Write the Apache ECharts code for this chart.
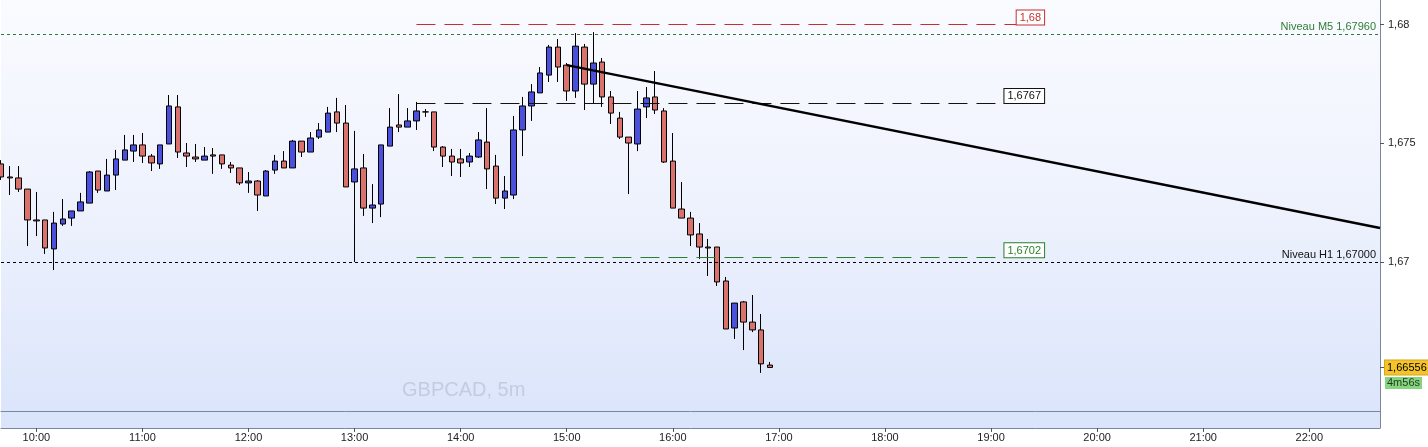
<!DOCTYPE html>
<html><head><meta charset="utf-8">
<script src="https://cdn.jsdelivr.net/npm/echarts@6/dist/echarts.min.js"></script>
<style>html,body{margin:0;padding:0;background:#fff}#c{width:1428px;height:447px}</style>
</head><body><div id="c"></div>
<script>
// 5-minute categories 09:40 .. 22:40
const times = [];
for (let m = 9 * 60 + 40; m <= 22 * 60 + 40; m += 5) {
  times.push(String(Math.floor(m / 60)).padStart(2, '0') + ':' + String(m % 60).padStart(2, '0'));
}
const opens = [1.67413,1.67358,1.67354,1.67307,1.67177,1.67177,1.67055,1.67160,1.67185,1.67215,
1.67248,1.67383,1.67299,1.67366,1.67429,1.67467,1.67493,1.67446,1.67413,1.67497,
1.67653,1.67459,1.67442,1.67429,1.67451,1.67451,1.67408,1.67396,1.67333,1.67341,
1.67278,1.67387,1.67425,1.67396,1.67509,1.67463,1.67526,1.67547,1.67632,1.67585,
1.67337,1.67396,1.67227,1.67244,1.67488,1.67577,1.67568,1.67594,1.67632,1.67632,
1.67484,1.67446,1.67434,1.67421,1.67442,1.67505,1.67404,1.67269,1.67282,1.67556,
1.67657,1.67712,1.67787,1.67905,1.67829,1.67720,1.67905,1.67749,1.67842,1.67695,
1.67606,1.67526,1.67497,1.67653,1.67695,1.67636,1.67425,1.67223,1.67185,1.67118,
1.67063,1.67063,1.66920,1.66722,1.66832,1.66747,1.66714,1.66566];
const closes = [1.67358,1.67354,1.67307,1.67177,1.67173,1.67059,1.67164,1.67181,1.67215,1.67253,
1.67379,1.67303,1.67366,1.67434,1.67472,1.67493,1.67446,1.67417,1.67493,1.67657,
1.67463,1.67446,1.67434,1.67446,1.67446,1.67413,1.67396,1.67333,1.67341,1.67282,
1.67383,1.67425,1.67396,1.67509,1.67463,1.67522,1.67556,1.67627,1.67585,1.67316,
1.67392,1.67227,1.67240,1.67493,1.67568,1.67568,1.67594,1.67636,1.67632,1.67484,
1.67446,1.67421,1.67417,1.67446,1.67514,1.67392,1.67269,1.67299,1.67556,1.67657,
1.67716,1.67796,1.67905,1.67821,1.67720,1.67909,1.67749,1.67838,1.67695,1.67627,
1.67526,1.67501,1.67644,1.67691,1.67640,1.67421,1.67227,1.67185,1.67114,1.67063,
1.67059,1.66916,1.66718,1.66827,1.66747,1.66714,1.66571,1.66556];
const lows = [1.67345,1.67282,1.67295,1.67067,1.67109,1.67034,1.66966,1.67152,1.67152,1.67215,
1.67248,1.67291,1.67299,1.67303,1.67429,1.67421,1.67417,1.67383,1.67392,1.67497,
1.67438,1.67400,1.67421,1.67429,1.67371,1.67392,1.67375,1.67324,1.67291,1.67215,
1.67278,1.67371,1.67396,1.67396,1.67442,1.67463,1.67518,1.67547,1.67547,1.67316,
1.67000,1.67194,1.67164,1.67189,1.67488,1.67547,1.67568,1.67556,1.67611,1.67467,
1.67400,1.67362,1.67358,1.67400,1.67438,1.67307,1.67244,1.67223,1.67265,1.67446,
1.67594,1.67712,1.67758,1.67758,1.67678,1.67691,1.67640,1.67669,1.67653,1.67581,
1.67518,1.67286,1.67467,1.67606,1.67623,1.67417,1.67227,1.67185,1.67067,1.67013,
1.66941,1.66899,1.66718,1.66676,1.66629,1.66705,1.66533,1.66556];
const highs = [1.67429,1.67404,1.67404,1.67307,1.67295,1.67177,1.67211,1.67265,1.67215,1.67291,
1.67383,1.67383,1.67434,1.67472,1.67535,1.67535,1.67543,1.67455,1.67493,1.67703,
1.67703,1.67501,1.67497,1.67484,1.67480,1.67451,1.67421,1.67396,1.67379,1.67345,
1.67387,1.67451,1.67467,1.67514,1.67509,1.67547,1.67585,1.67653,1.67691,1.67661,
1.67552,1.67455,1.67328,1.67493,1.67648,1.67707,1.67648,1.67674,1.67644,1.67632,
1.67488,1.67476,1.67476,1.67459,1.67547,1.67648,1.67451,1.67362,1.67615,1.67695,
1.67749,1.67821,1.67914,1.67939,1.67838,1.67964,1.67918,1.67968,1.67859,1.67720,
1.67632,1.67526,1.67720,1.67737,1.67804,1.67648,1.67543,1.67337,1.67211,1.67164,
1.67097,1.67063,1.66937,1.66827,1.66836,1.66861,1.66781,1.66579];
const yTickValues = [1.67, 1.675, 1.68];
const levelM5 = 1.6796, levelH1 = 1.67;
const objLines = [
  { value: 1.68,   text: '1,68',   color: '#c62f2f' },
  { value: 1.6767, text: '1,6767', color: '#111111' },
  { value: 1.6702, text: '1,6702', color: '#2a7f2a' }
];
const objStart = '13:35', objEnd = '19:30';
const trendFrom = ['15:00', 1.67829], trendTo = ['22:40', 1.67143];
const countdown = '4m56s';
const yMin = 1.663726, yMax = 1.681032;

const fmt = v => String(v).replace('.', ',');
const lastClose = closes[closes.length - 1];
const candles = opens.map((o, i) => [o, closes[i], lows[i], highs[i]]);
const isHour = (i, v) => v.endsWith(':00');
const FONT = 'Liberation Sans';

const markData = [
  { yAxis: levelM5, lineStyle: { color: '#2e7d32', type: [3, 3], width: 1 },
    label: { show: true, position: 'insideEndTop', distance: [4, 2], formatter: 'Niveau M5 1,67960', color: '#2e7d32', fontSize: 11, fontFamily: FONT } },
  { yAxis: levelH1, lineStyle: { color: '#000', type: [3, 3], width: 1 },
    label: { show: true, position: 'insideEndTop', distance: [4, 2], formatter: 'Niveau H1 1,67000', color: '#111', fontSize: 11, fontFamily: FONT } },
  ...objLines.map(o => [
    { coord: [objStart, o.value], lineStyle: { color: o.color, type: [19, 9], width: 1 },
      label: { show: true, position: 'insideEndTop', distance: [0, 0], formatter: o.text, color: o.color, fontSize: 11, fontFamily: FONT,
        backgroundColor: '#fff', borderColor: o.color, borderWidth: 1, padding: [2, 3, 1, 3] } },
    { coord: [objEnd, o.value] }
  ]),
  [
    { coord: trendFrom, lineStyle: { color: '#000', type: 'solid', width: 2.5 }, label: { show: false } },
    { coord: trendTo }
  ],
  { yAxis: lastClose, lineStyle: { color: 'rgba(0,0,0,0)', width: 0 },
    label: { show: true, position: 'end', distance: 5,
      formatter: '{e| }\n{p|' + fmt(lastClose) + '}\n{t|' + countdown + '}',
      rich: {
        e: { height: 14, lineHeight: 14, fontSize: 11 },
        p: { backgroundColor: '#f5c42a', borderColor: '#d8a51a', borderWidth: 1, color: '#000', fontSize: 11, fontFamily: FONT, padding: [2, 2, 1, 2], lineHeight: 17 },
        t: { backgroundColor: '#86d47f', color: '#1c3d1c', fontSize: 11, fontFamily: FONT, padding: [1, 2, 0, 2], lineHeight: 14 }
      } } }
];

const chart = echarts.init(document.getElementById('c'), null, { renderer: 'canvas' });
chart.setOption({
  animation: false,
  backgroundColor: '#fff',
  title: { text: 'GBPCAD, 5m', left: 397, top: 375,
    textStyle: { color: '#c4cce0', fontSize: 20, fontWeight: 'normal', fontFamily: FONT } },
  grid: [
    { left: 1, right: 48, top: 0, height: 411, show: true, borderWidth: 0,
      backgroundColor: { type: 'linear', x: 0, y: 0, x2: 0, y2: 1,
        colorStops: [{ offset: 0, color: '#fafbff' }, { offset: 0.5, color: '#eef2fd' }, { offset: 1, color: '#dce5fb' }] } },
    { left: 1, right: 48, top: 411, height: 17, show: true, borderWidth: 0, backgroundColor: '#dae4fb' }
  ],
  xAxis: [
    { type: 'category', gridIndex: 0, data: times, boundaryGap: false,
      axisLine: { show: true, lineStyle: { color: '#7b879a' } },
      axisTick: { show: false }, axisLabel: { show: false }, splitLine: { show: false } },
    { type: 'category', gridIndex: 1, data: times, boundaryGap: false,
      axisLine: { show: true, lineStyle: { color: '#7b879a' } },
      axisTick: { show: true, interval: isHour, length: 4, lineStyle: { color: '#555' } },
      axisLabel: { show: true, interval: isHour, margin: 4, color: '#222', fontSize: 11, fontFamily: FONT },
      splitLine: { show: false } }
  ],
  yAxis: [
    { type: 'value', gridIndex: 0, position: 'right', min: yMin, max: yMax,
      axisLine: { show: true, lineStyle: { color: '#7b879a' } },
      axisTick: { show: true, length: 4, customValues: [lastClose].concat(yTickValues), lineStyle: { color: '#555' } },
      axisLabel: { show: true, customValues: yTickValues, formatter: fmt, margin: 8, color: '#222', fontSize: 11, fontFamily: FONT },
      splitLine: { show: false } },
    { type: 'value', gridIndex: 1, position: 'right', min: 0, max: 1,
      axisLine: { show: true, lineStyle: { color: '#7b879a' } },
      axisTick: { show: false }, axisLabel: { show: false }, splitLine: { show: false } }
  ],
  series: [{
    type: 'candlestick', xAxisIndex: 0, yAxisIndex: 0, data: candles, barWidth: 6,
    itemStyle: { color: '#4a4fdc', color0: '#d9726d', borderColor: '#000', borderColor0: '#000', borderColorDoji: '#000', borderWidth: 1 },
    markLine: { silent: true, precision: 6, symbol: ['none', 'none'], animation: false, data: markData }
  }]
});
</script></body></html>
